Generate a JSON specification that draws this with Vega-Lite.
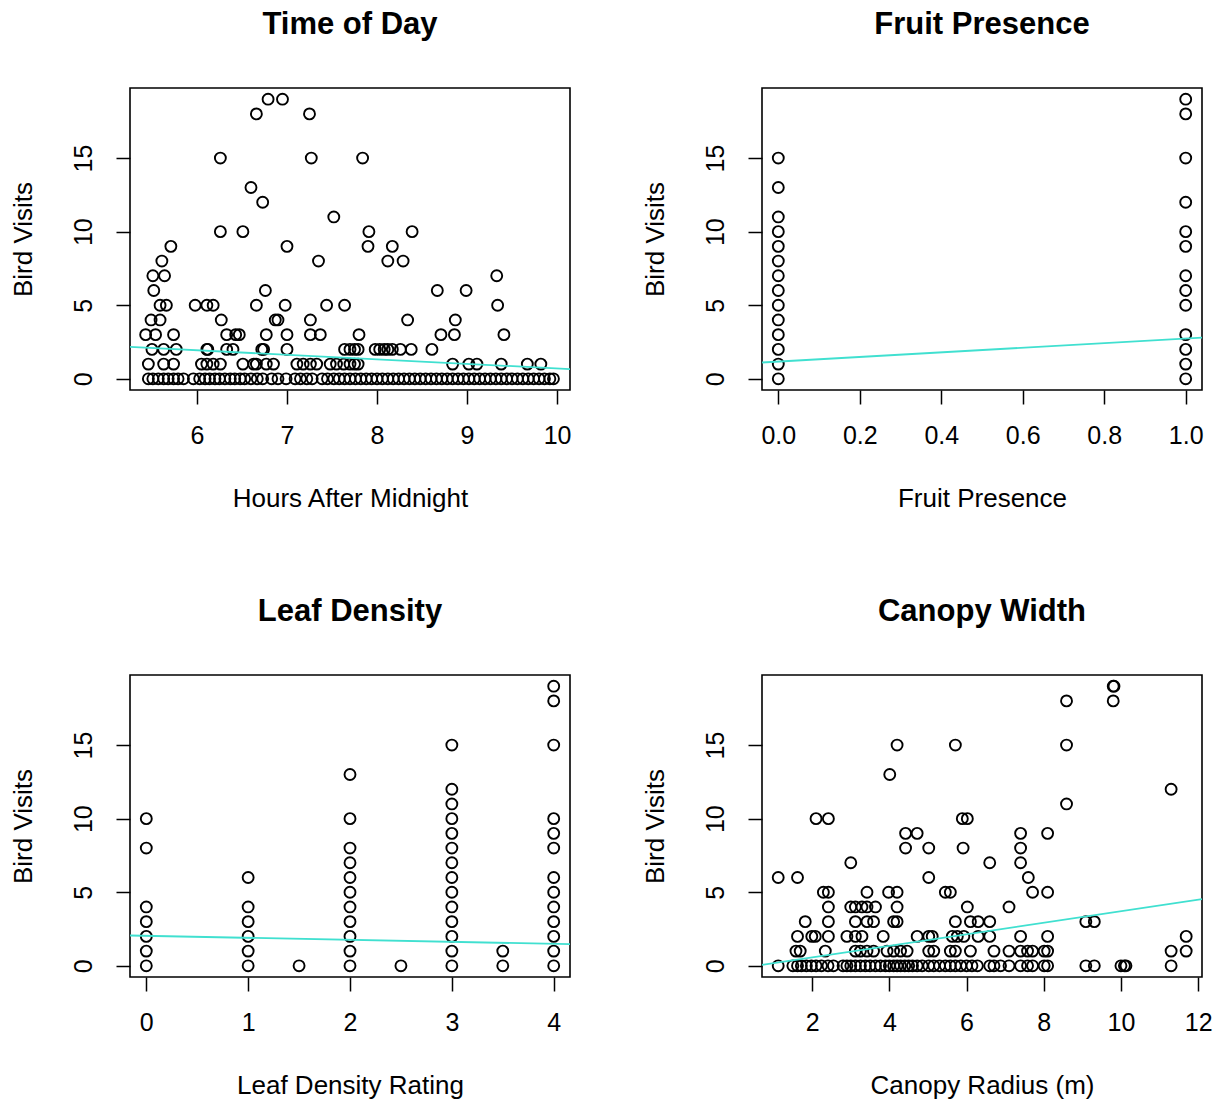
{
  "$schema": "https://vega.github.io/schema/vega-lite/v6.json",
  "padding": {"left": 9, "top": 8, "right": 0, "bottom": 0},
  "background": "white",
  "config": {
    "font": "Liberation Sans",
    "view": {"stroke": "black", "strokeWidth": 1.6},
    "axis": {"domain": false, "grid": false, "ticks": true, "tickColor": "black", "tickSize": 14, "tickWidth": 1.5, "labelFontSize": 25, "labelColor": "black", "labelFont": "Liberation Sans", "titleFont": "Liberation Sans", "titleFontSize": 26, "titleFontWeight": "normal", "titleColor": "black", "labelFlush": false, "labelOverlap": false},
    "axisX": {"labelPadding": 19, "titlePadding": 37},
    "axisY": {"labelAngle": -90, "labelAlign": "center", "labelBaseline": "bottom", "labelPadding": 20, "titlePadding": 35},
    "title": {"fontSize": 31, "fontWeight": "bold", "color": "black", "font": "Liberation Sans", "anchor": "middle", "frame": "group", "baseline": "alphabetic", "offset": 47}
  },
  "datasets": {
    "time": [
      {"hours": 6.79, "visits": 19}, {"hours": 6.95, "visits": 19}, {"hours": 6.66, "visits": 18}, {"hours": 7.25, "visits": 18},
      {"hours": 6.26, "visits": 15}, {"hours": 7.27, "visits": 15}, {"hours": 7.84, "visits": 15}, {"hours": 6.60, "visits": 13},
      {"hours": 6.73, "visits": 12}, {"hours": 7.52, "visits": 11}, {"hours": 6.26, "visits": 10}, {"hours": 6.51, "visits": 10},
      {"hours": 7.91, "visits": 10}, {"hours": 8.39, "visits": 10}, {"hours": 5.71, "visits": 9}, {"hours": 7.00, "visits": 9},
      {"hours": 7.90, "visits": 9}, {"hours": 8.17, "visits": 9}, {"hours": 5.61, "visits": 8}, {"hours": 7.35, "visits": 8},
      {"hours": 8.12, "visits": 8}, {"hours": 8.29, "visits": 8}, {"hours": 5.51, "visits": 7}, {"hours": 5.64, "visits": 7},
      {"hours": 9.33, "visits": 7}, {"hours": 5.52, "visits": 6}, {"hours": 6.76, "visits": 6}, {"hours": 8.67, "visits": 6},
      {"hours": 8.99, "visits": 6},
      {"hours": 5.59, "visits": 5}, {"hours": 5.66, "visits": 5}, {"hours": 5.98, "visits": 5}, {"hours": 6.11, "visits": 5},
      {"hours": 6.18, "visits": 5}, {"hours": 6.66, "visits": 5}, {"hours": 6.98, "visits": 5}, {"hours": 7.44, "visits": 5},
      {"hours": 7.64, "visits": 5}, {"hours": 9.34, "visits": 5},
      {"hours": 5.49, "visits": 4}, {"hours": 5.59, "visits": 4}, {"hours": 6.27, "visits": 4}, {"hours": 6.87, "visits": 4},
      {"hours": 6.90, "visits": 4}, {"hours": 7.26, "visits": 4}, {"hours": 8.34, "visits": 4}, {"hours": 8.87, "visits": 4},
      {"hours": 5.43, "visits": 3}, {"hours": 5.54, "visits": 3}, {"hours": 5.74, "visits": 3}, {"hours": 6.33, "visits": 3},
      {"hours": 6.43, "visits": 3}, {"hours": 6.47, "visits": 3}, {"hours": 6.77, "visits": 3}, {"hours": 7.00, "visits": 3},
      {"hours": 7.26, "visits": 3}, {"hours": 7.37, "visits": 3}, {"hours": 7.80, "visits": 3}, {"hours": 8.71, "visits": 3},
      {"hours": 8.86, "visits": 3}, {"hours": 9.41, "visits": 3},
      {"hours": 5.50, "visits": 2}, {"hours": 5.63, "visits": 2}, {"hours": 5.77, "visits": 2}, {"hours": 6.11, "visits": 2},
      {"hours": 6.12, "visits": 2}, {"hours": 6.33, "visits": 2}, {"hours": 6.40, "visits": 2}, {"hours": 6.72, "visits": 2},
      {"hours": 6.74, "visits": 2}, {"hours": 7.00, "visits": 2}, {"hours": 7.64, "visits": 2}, {"hours": 7.70, "visits": 2},
      {"hours": 7.75, "visits": 2}, {"hours": 7.79, "visits": 2}, {"hours": 7.98, "visits": 2}, {"hours": 8.03, "visits": 2},
      {"hours": 8.08, "visits": 2}, {"hours": 8.12, "visits": 2}, {"hours": 8.17, "visits": 2}, {"hours": 8.26, "visits": 2},
      {"hours": 8.38, "visits": 2}, {"hours": 8.61, "visits": 2},
      {"hours": 5.46, "visits": 1}, {"hours": 5.63, "visits": 1}, {"hours": 5.74, "visits": 1}, {"hours": 6.05, "visits": 1},
      {"hours": 6.11, "visits": 1}, {"hours": 6.18, "visits": 1}, {"hours": 6.26, "visits": 1}, {"hours": 6.51, "visits": 1},
      {"hours": 6.63, "visits": 1}, {"hours": 6.66, "visits": 1}, {"hours": 6.77, "visits": 1}, {"hours": 6.85, "visits": 1},
      {"hours": 7.11, "visits": 1}, {"hours": 7.18, "visits": 1}, {"hours": 7.26, "visits": 1}, {"hours": 7.33, "visits": 1},
      {"hours": 7.48, "visits": 1}, {"hours": 7.55, "visits": 1}, {"hours": 7.63, "visits": 1}, {"hours": 7.70, "visits": 1},
      {"hours": 7.75, "visits": 1}, {"hours": 7.79, "visits": 1}, {"hours": 8.84, "visits": 1}, {"hours": 9.02, "visits": 1},
      {"hours": 9.11, "visits": 1}, {"hours": 9.38, "visits": 1}, {"hours": 9.67, "visits": 1}, {"hours": 9.82, "visits": 1},
      {"hours": 5.46, "visits": 0}, {"hours": 5.51, "visits": 0}, {"hours": 5.57, "visits": 0}, {"hours": 5.63, "visits": 0},
      {"hours": 5.68, "visits": 0}, {"hours": 5.74, "visits": 0}, {"hours": 5.79, "visits": 0}, {"hours": 5.85, "visits": 0},
      {"hours": 5.96, "visits": 0}, {"hours": 6.03, "visits": 0}, {"hours": 6.09, "visits": 0}, {"hours": 6.14, "visits": 0},
      {"hours": 6.20, "visits": 0}, {"hours": 6.25, "visits": 0}, {"hours": 6.31, "visits": 0}, {"hours": 6.37, "visits": 0},
      {"hours": 6.42, "visits": 0}, {"hours": 6.48, "visits": 0}, {"hours": 6.53, "visits": 0}, {"hours": 6.60, "visits": 0},
      {"hours": 6.67, "visits": 0}, {"hours": 6.73, "visits": 0}, {"hours": 6.83, "visits": 0}, {"hours": 6.90, "visits": 0},
      {"hours": 6.99, "visits": 0}, {"hours": 7.09, "visits": 0}, {"hours": 7.15, "visits": 0}, {"hours": 7.22, "visits": 0},
      {"hours": 7.28, "visits": 0}, {"hours": 7.39, "visits": 0}, {"hours": 7.45, "visits": 0}, {"hours": 7.52, "visits": 0},
      {"hours": 7.58, "visits": 0}, {"hours": 7.64, "visits": 0}, {"hours": 7.70, "visits": 0}, {"hours": 7.76, "visits": 0},
      {"hours": 7.82, "visits": 0}, {"hours": 7.88, "visits": 0}, {"hours": 7.94, "visits": 0}, {"hours": 8.00, "visits": 0},
      {"hours": 8.06, "visits": 0}, {"hours": 8.12, "visits": 0}, {"hours": 8.18, "visits": 0}, {"hours": 8.24, "visits": 0},
      {"hours": 8.30, "visits": 0}, {"hours": 8.36, "visits": 0}, {"hours": 8.42, "visits": 0}, {"hours": 8.48, "visits": 0},
      {"hours": 8.54, "visits": 0}, {"hours": 8.60, "visits": 0}, {"hours": 8.66, "visits": 0}, {"hours": 8.72, "visits": 0},
      {"hours": 8.78, "visits": 0}, {"hours": 8.84, "visits": 0}, {"hours": 8.90, "visits": 0}, {"hours": 8.96, "visits": 0},
      {"hours": 9.02, "visits": 0}, {"hours": 9.08, "visits": 0}, {"hours": 9.14, "visits": 0}, {"hours": 9.20, "visits": 0},
      {"hours": 9.26, "visits": 0}, {"hours": 9.32, "visits": 0}, {"hours": 9.38, "visits": 0}, {"hours": 9.44, "visits": 0},
      {"hours": 9.50, "visits": 0}, {"hours": 9.56, "visits": 0}, {"hours": 9.62, "visits": 0}, {"hours": 9.68, "visits": 0},
      {"hours": 9.74, "visits": 0}, {"hours": 9.80, "visits": 0}, {"hours": 9.86, "visits": 0}, {"hours": 9.92, "visits": 0},
      {"hours": 9.96, "visits": 0}
    ],
    "time_fit": [{"hours": 5.256, "visits": 2.17}, {"hours": 10.144, "visits": 0.66}],
    "fruit": [
      {"fruit": 0, "visits": 0}, {"fruit": 0, "visits": 1}, {"fruit": 0, "visits": 2}, {"fruit": 0, "visits": 3},
      {"fruit": 0, "visits": 4}, {"fruit": 0, "visits": 5}, {"fruit": 0, "visits": 6}, {"fruit": 0, "visits": 7},
      {"fruit": 0, "visits": 8}, {"fruit": 0, "visits": 9}, {"fruit": 0, "visits": 10}, {"fruit": 0, "visits": 11},
      {"fruit": 0, "visits": 13}, {"fruit": 0, "visits": 15},
      {"fruit": 1, "visits": 0}, {"fruit": 1, "visits": 1}, {"fruit": 1, "visits": 2}, {"fruit": 1, "visits": 3},
      {"fruit": 1, "visits": 5}, {"fruit": 1, "visits": 6}, {"fruit": 1, "visits": 7}, {"fruit": 1, "visits": 9},
      {"fruit": 1, "visits": 10}, {"fruit": 1, "visits": 12}, {"fruit": 1, "visits": 15}, {"fruit": 1, "visits": 18},
      {"fruit": 1, "visits": 19}
    ],
    "fruit_fit": [{"fruit": -0.04, "visits": 1.11}, {"fruit": 1.04, "visits": 2.80}],
    "leaf": [
      {"leaf": 0, "visits": 10}, {"leaf": 0, "visits": 8}, {"leaf": 0, "visits": 4}, {"leaf": 0, "visits": 3},
      {"leaf": 0, "visits": 2}, {"leaf": 0, "visits": 1}, {"leaf": 0, "visits": 0},
      {"leaf": 1, "visits": 6}, {"leaf": 1, "visits": 4}, {"leaf": 1, "visits": 3}, {"leaf": 1, "visits": 2},
      {"leaf": 1, "visits": 1}, {"leaf": 1, "visits": 0},
      {"leaf": 1.5, "visits": 0},
      {"leaf": 2, "visits": 13}, {"leaf": 2, "visits": 10}, {"leaf": 2, "visits": 8}, {"leaf": 2, "visits": 7},
      {"leaf": 2, "visits": 6}, {"leaf": 2, "visits": 5}, {"leaf": 2, "visits": 4}, {"leaf": 2, "visits": 3},
      {"leaf": 2, "visits": 2}, {"leaf": 2, "visits": 1}, {"leaf": 2, "visits": 0},
      {"leaf": 2.5, "visits": 0},
      {"leaf": 3, "visits": 15}, {"leaf": 3, "visits": 12}, {"leaf": 3, "visits": 11}, {"leaf": 3, "visits": 10},
      {"leaf": 3, "visits": 9}, {"leaf": 3, "visits": 8}, {"leaf": 3, "visits": 7}, {"leaf": 3, "visits": 6},
      {"leaf": 3, "visits": 5}, {"leaf": 3, "visits": 4}, {"leaf": 3, "visits": 3}, {"leaf": 3, "visits": 2},
      {"leaf": 3, "visits": 1}, {"leaf": 3, "visits": 0},
      {"leaf": 3.5, "visits": 1}, {"leaf": 3.5, "visits": 0},
      {"leaf": 4, "visits": 19}, {"leaf": 4, "visits": 18}, {"leaf": 4, "visits": 15}, {"leaf": 4, "visits": 10},
      {"leaf": 4, "visits": 9}, {"leaf": 4, "visits": 8}, {"leaf": 4, "visits": 6}, {"leaf": 4, "visits": 5},
      {"leaf": 4, "visits": 4}, {"leaf": 4, "visits": 3}, {"leaf": 4, "visits": 2}, {"leaf": 4, "visits": 1},
      {"leaf": 4, "visits": 0}
    ],
    "leaf_fit": [{"leaf": -0.16, "visits": 2.06}, {"leaf": 4.16, "visits": 1.47}],
    "canopy": [
      {"radius": 9.80, "visits": 19}, {"radius": 9.82, "visits": 19}, {"radius": 8.59, "visits": 18}, {"radius": 9.80, "visits": 18},
      {"radius": 4.20, "visits": 15}, {"radius": 5.71, "visits": 15}, {"radius": 8.59, "visits": 15}, {"radius": 4.01, "visits": 13},
      {"radius": 11.30, "visits": 12}, {"radius": 8.59, "visits": 11},
      {"radius": 2.10, "visits": 10}, {"radius": 2.42, "visits": 10}, {"radius": 5.89, "visits": 10}, {"radius": 6.02, "visits": 10},
      {"radius": 4.42, "visits": 9}, {"radius": 4.72, "visits": 9}, {"radius": 7.40, "visits": 9}, {"radius": 8.10, "visits": 9},
      {"radius": 4.42, "visits": 8}, {"radius": 5.02, "visits": 8}, {"radius": 5.91, "visits": 8}, {"radius": 7.40, "visits": 8},
      {"radius": 3.00, "visits": 7}, {"radius": 6.60, "visits": 7}, {"radius": 7.40, "visits": 7},
      {"radius": 1.12, "visits": 6}, {"radius": 1.62, "visits": 6}, {"radius": 5.02, "visits": 6}, {"radius": 7.60, "visits": 6},
      {"radius": 2.29, "visits": 5}, {"radius": 2.42, "visits": 5}, {"radius": 3.42, "visits": 5}, {"radius": 3.98, "visits": 5},
      {"radius": 4.20, "visits": 5}, {"radius": 5.45, "visits": 5}, {"radius": 5.58, "visits": 5}, {"radius": 7.71, "visits": 5},
      {"radius": 8.10, "visits": 5},
      {"radius": 2.42, "visits": 4}, {"radius": 3.00, "visits": 4}, {"radius": 3.12, "visits": 4}, {"radius": 3.29, "visits": 4},
      {"radius": 3.42, "visits": 4}, {"radius": 3.64, "visits": 4}, {"radius": 4.20, "visits": 4}, {"radius": 6.02, "visits": 4},
      {"radius": 7.10, "visits": 4},
      {"radius": 1.82, "visits": 3}, {"radius": 2.42, "visits": 3}, {"radius": 3.12, "visits": 3}, {"radius": 3.42, "visits": 3},
      {"radius": 3.59, "visits": 3}, {"radius": 4.11, "visits": 3}, {"radius": 4.20, "visits": 3}, {"radius": 5.71, "visits": 3},
      {"radius": 6.10, "visits": 3}, {"radius": 6.30, "visits": 3}, {"radius": 6.60, "visits": 3}, {"radius": 9.09, "visits": 3},
      {"radius": 9.31, "visits": 3},
      {"radius": 1.62, "visits": 2}, {"radius": 1.99, "visits": 2}, {"radius": 2.08, "visits": 2}, {"radius": 2.42, "visits": 2},
      {"radius": 2.90, "visits": 2}, {"radius": 3.12, "visits": 2}, {"radius": 3.29, "visits": 2}, {"radius": 3.84, "visits": 2},
      {"radius": 4.72, "visits": 2}, {"radius": 5.02, "visits": 2}, {"radius": 5.11, "visits": 2}, {"radius": 5.63, "visits": 2},
      {"radius": 5.76, "visits": 2}, {"radius": 5.93, "visits": 2}, {"radius": 6.30, "visits": 2}, {"radius": 6.60, "visits": 2},
      {"radius": 7.40, "visits": 2}, {"radius": 8.10, "visits": 2}, {"radius": 11.69, "visits": 2},
      {"radius": 1.58, "visits": 1}, {"radius": 1.69, "visits": 1}, {"radius": 2.34, "visits": 1}, {"radius": 3.12, "visits": 1},
      {"radius": 3.25, "visits": 1}, {"radius": 3.42, "visits": 1}, {"radius": 3.59, "visits": 1}, {"radius": 3.94, "visits": 1},
      {"radius": 4.11, "visits": 1}, {"radius": 4.29, "visits": 1}, {"radius": 4.46, "visits": 1}, {"radius": 5.02, "visits": 1},
      {"radius": 5.15, "visits": 1}, {"radius": 5.58, "visits": 1}, {"radius": 5.71, "visits": 1}, {"radius": 6.10, "visits": 1},
      {"radius": 6.71, "visits": 1}, {"radius": 7.10, "visits": 1}, {"radius": 7.40, "visits": 1}, {"radius": 7.58, "visits": 1},
      {"radius": 7.71, "visits": 1}, {"radius": 8.01, "visits": 1}, {"radius": 8.10, "visits": 1}, {"radius": 11.30, "visits": 1},
      {"radius": 11.69, "visits": 1},
      {"radius": 1.12, "visits": 0}, {"radius": 1.50, "visits": 0}, {"radius": 1.62, "visits": 0}, {"radius": 1.72, "visits": 0},
      {"radius": 1.85, "visits": 0}, {"radius": 1.98, "visits": 0}, {"radius": 2.10, "visits": 0}, {"radius": 2.24, "visits": 0},
      {"radius": 2.41, "visits": 0}, {"radius": 2.55, "visits": 0}, {"radius": 2.80, "visits": 0}, {"radius": 2.90, "visits": 0},
      {"radius": 3.00, "visits": 0}, {"radius": 3.12, "visits": 0}, {"radius": 3.25, "visits": 0}, {"radius": 3.38, "visits": 0},
      {"radius": 3.50, "visits": 0}, {"radius": 3.64, "visits": 0}, {"radius": 3.77, "visits": 0}, {"radius": 3.90, "visits": 0},
      {"radius": 4.00, "visits": 0}, {"radius": 4.11, "visits": 0}, {"radius": 4.20, "visits": 0}, {"radius": 4.29, "visits": 0},
      {"radius": 4.40, "visits": 0}, {"radius": 4.50, "visits": 0}, {"radius": 4.60, "visits": 0}, {"radius": 4.72, "visits": 0},
      {"radius": 4.85, "visits": 0}, {"radius": 5.02, "visits": 0}, {"radius": 5.15, "visits": 0}, {"radius": 5.30, "visits": 0},
      {"radius": 5.45, "visits": 0}, {"radius": 5.58, "visits": 0}, {"radius": 5.71, "visits": 0}, {"radius": 5.85, "visits": 0},
      {"radius": 6.00, "visits": 0}, {"radius": 6.14, "visits": 0}, {"radius": 6.28, "visits": 0}, {"radius": 6.60, "visits": 0},
      {"radius": 6.71, "visits": 0}, {"radius": 6.88, "visits": 0}, {"radius": 7.10, "visits": 0}, {"radius": 7.40, "visits": 0},
      {"radius": 7.58, "visits": 0}, {"radius": 7.71, "visits": 0}, {"radius": 8.01, "visits": 0}, {"radius": 8.10, "visits": 0},
      {"radius": 9.09, "visits": 0}, {"radius": 9.31, "visits": 0}, {"radius": 10.00, "visits": 0}, {"radius": 10.09, "visits": 0},
      {"radius": 10.13, "visits": 0}, {"radius": 11.30, "visits": 0}
    ],
    "canopy_fit": [{"radius": 0.70, "visits": 0.07}, {"radius": 12.10, "visits": 4.53}]
  },
  "concat": [
    {
      "width": 440, "height": 302,
      "title": "Time of Day",
      "encoding": {
        "x": {"field": "hours", "type": "quantitative", "scale": {"domain": [5.256, 10.144], "nice": false, "zero": false}, "axis": {"title": "Hours After Midnight", "values": [6, 7, 8, 9, 10]}},
        "y": {"field": "visits", "type": "quantitative", "scale": {"domain": [-0.76, 19.76], "nice": false, "zero": false}, "axis": {"title": "Bird Visits", "values": [0, 5, 10, 15]}}
      },
      "layer": [
        {"data": {"name": "time"}, "mark": {"type": "point", "shape": "circle", "filled": false, "color": "black", "size": 120, "strokeWidth": 1.9, "opacity": 1}},
        {"data": {"name": "time_fit"}, "mark": {"type": "line", "color": "#40E0D0", "strokeWidth": 1.8, "clip": true}}
      ]
    },
    {
      "width": 440, "height": 302,
      "title": "Fruit Presence",
      "encoding": {
        "x": {"field": "fruit", "type": "quantitative", "scale": {"domain": [-0.04, 1.04], "nice": false, "zero": false}, "axis": {"title": "Fruit Presence", "values": [0, 0.2, 0.4, 0.6, 0.8, 1.0], "format": ".1f"}},
        "y": {"field": "visits", "type": "quantitative", "scale": {"domain": [-0.76, 19.76], "nice": false, "zero": false}, "axis": {"title": "Bird Visits", "values": [0, 5, 10, 15]}}
      },
      "layer": [
        {"data": {"name": "fruit"}, "mark": {"type": "point", "shape": "circle", "filled": false, "color": "black", "size": 120, "strokeWidth": 1.9, "opacity": 1}},
        {"data": {"name": "fruit_fit"}, "mark": {"type": "line", "color": "#40E0D0", "strokeWidth": 1.8, "clip": true}}
      ]
    },
    {
      "width": 440, "height": 302,
      "title": "Leaf Density",
      "encoding": {
        "x": {"field": "leaf", "type": "quantitative", "scale": {"domain": [-0.16, 4.16], "nice": false, "zero": false}, "axis": {"title": "Leaf Density Rating", "values": [0, 1, 2, 3, 4]}},
        "y": {"field": "visits", "type": "quantitative", "scale": {"domain": [-0.76, 19.76], "nice": false, "zero": false}, "axis": {"title": "Bird Visits", "values": [0, 5, 10, 15]}}
      },
      "layer": [
        {"data": {"name": "leaf"}, "mark": {"type": "point", "shape": "circle", "filled": false, "color": "black", "size": 120, "strokeWidth": 1.9, "opacity": 1}},
        {"data": {"name": "leaf_fit"}, "mark": {"type": "line", "color": "#40E0D0", "strokeWidth": 1.8, "clip": true}}
      ]
    },
    {
      "width": 440, "height": 302,
      "title": "Canopy Width",
      "encoding": {
        "x": {"field": "radius", "type": "quantitative", "scale": {"domain": [0.70, 12.10], "nice": false, "zero": false}, "axis": {"title": "Canopy Radius (m)", "values": [2, 4, 6, 8, 10, 12]}},
        "y": {"field": "visits", "type": "quantitative", "scale": {"domain": [-0.76, 19.76], "nice": false, "zero": false}, "axis": {"title": "Bird Visits", "values": [0, 5, 10, 15]}}
      },
      "layer": [
        {"data": {"name": "canopy"}, "mark": {"type": "point", "shape": "circle", "filled": false, "color": "black", "size": 120, "strokeWidth": 1.9, "opacity": 1}},
        {"data": {"name": "canopy_fit"}, "mark": {"type": "line", "color": "#40E0D0", "strokeWidth": 1.8, "clip": true}}
      ]
    }
  ],
  "columns": 2,
  "spacing": {"row": 285, "column": 192},
  "bounds": "flush"
}
